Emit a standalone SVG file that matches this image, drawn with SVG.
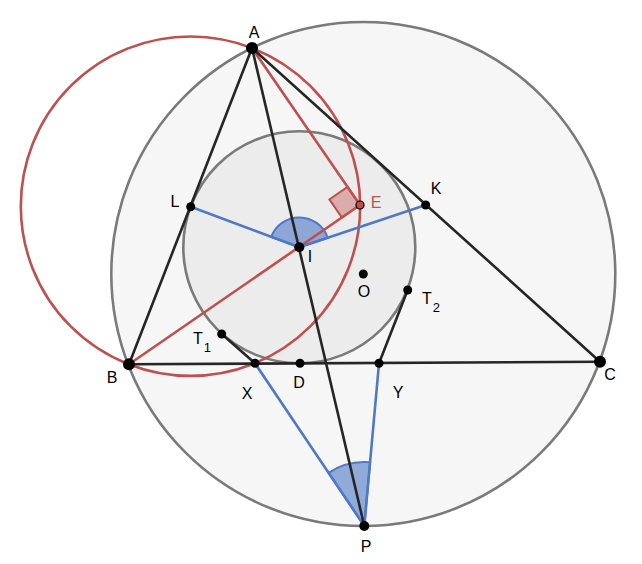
<svg xmlns="http://www.w3.org/2000/svg" width="642" height="564" viewBox="0 0 642 564">
<style>
.blk{stroke:#262626;stroke-width:2.6;fill:none;stroke-linecap:round}
.red{stroke:#c0504d;stroke-width:2.6;fill:none;stroke-linecap:round}
.blu{stroke:#4f78c8;stroke-width:2.6;fill:none;stroke-linecap:round}
.gry{stroke:#7a7a7a;stroke-width:2.6}
.pt{fill:#000}
text{font-family:"Liberation Sans",Arial,sans-serif;font-size:16px;fill:#000}
.sub{font-size:13px}
</style>
<rect width="642" height="564" fill="#fff"/>
<g id="circumcircle"><circle cx="363.3" cy="274" r="252" fill="#f6f6f6" class="gry"/></g>
<g id="incircle"><circle cx="299.3" cy="247.3" r="116" fill="#ececec" class="gry"/></g>
<g id="angles">
<path d="M299.3,247.3 L271.2,236.8 A30,30 0 0 1 327.7,237.8 Z" fill="#4f78c8" fill-opacity="0.6" stroke="#4f78c8" stroke-width="2"/>
<path d="M364.3,526 L328.6,472.9 A64,64 0 0 1 370.1,462.3 Z" fill="#4f78c8" fill-opacity="0.6" stroke="#4f78c8" stroke-width="2"/>
<path d="M360,205 L341.9,217.5 L329.4,199.4 L347.5,186.9 Z" fill="#c0504d" fill-opacity="0.4" stroke="#c0504d" stroke-width="2"/>
</g>
<g id="connectors">
<circle cx="190.5" cy="206.2" r="169.7" class="red"/>
<line x1="252" y1="48" x2="360" y2="205" class="red"/>
<line x1="129" y1="364.3" x2="360" y2="205" class="red"/>
<line x1="190.7" y1="206.7" x2="299.3" y2="247.3" class="blu"/>
<line x1="299.3" y1="247.3" x2="425.7" y2="205" class="blu"/>
<line x1="255" y1="363.3" x2="364.3" y2="526" class="blu"/>
<line x1="379" y1="363.3" x2="364.3" y2="526" class="blu"/>
<line x1="252" y1="48" x2="129" y2="364.3" class="blk"/>
<line x1="252" y1="48" x2="600" y2="361.7" class="blk"/>
<line x1="129" y1="364.3" x2="600" y2="361.7" class="blk"/>
<line x1="252" y1="48" x2="364.3" y2="526" class="blk"/>
<line x1="221.7" y1="334" x2="255" y2="363.3" class="blk"/>
<line x1="407.7" y1="290" x2="379" y2="363.3" class="blk"/>
</g>
<g id="A"><circle cx="252" cy="48" r="6" class="pt"/><text x="254" y="38" text-anchor="middle">A</text></g>
<g id="B"><circle cx="129" cy="364.3" r="6" class="pt"/><text x="112" y="383" text-anchor="middle">B</text></g>
<g id="C"><circle cx="600" cy="361.7" r="6" class="pt"/><text x="610" y="380" text-anchor="middle">C</text></g>
<g id="P"><circle cx="364.3" cy="526" r="5" class="pt"/><text x="366" y="552" text-anchor="middle">P</text></g>
<g id="I"><circle cx="299.3" cy="247.3" r="5" class="pt"/><text x="310" y="262" text-anchor="middle">I</text></g>
<g id="O"><circle cx="363.3" cy="274" r="4.5" class="pt"/><text x="364" y="297" text-anchor="middle">O</text></g>
<g id="L"><circle cx="190.7" cy="206.7" r="4.5" class="pt"/><text x="175" y="207" text-anchor="middle">L</text></g>
<g id="K"><circle cx="425.7" cy="205" r="4.5" class="pt"/><text x="436" y="194" text-anchor="middle">K</text></g>
<g id="E"><circle cx="360" cy="205" r="4" fill="#c0504d" stroke="#000" stroke-width="1.2"/><text x="376" y="208" text-anchor="middle" style="fill:#c0504d">E</text></g>
<g id="D"><circle cx="300" cy="363.3" r="4.5" class="pt"/><text x="299" y="388" text-anchor="middle">D</text></g>
<g id="X"><circle cx="255" cy="363.3" r="4.5" class="pt"/><text x="247" y="399" text-anchor="middle">X</text></g>
<g id="Y"><circle cx="379" cy="363.3" r="4.5" class="pt"/><text x="398" y="398" text-anchor="middle">Y</text></g>
<g id="T1"><circle cx="221.7" cy="334" r="4.5" class="pt"/><text x="193" y="344">T<tspan class="sub" dx="1" dy="8">1</tspan></text></g>
<g id="T2"><circle cx="407.7" cy="290" r="4.5" class="pt"/><text x="422" y="304">T<tspan class="sub" dx="1" dy="8">2</tspan></text></g>
</svg>
